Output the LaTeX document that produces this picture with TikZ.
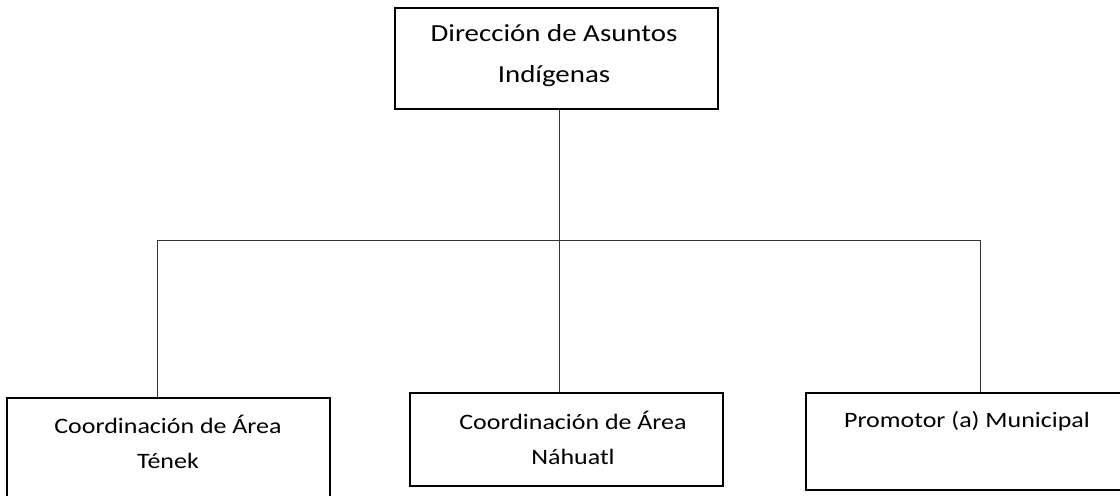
\documentclass[tikz,border=0pt]{standalone}
\usepackage{fontspec}
\setmainfont[FakeStretch=1.18]{Carlito}
\begin{document}
\begin{tikzpicture}[x=1bp,y=-1bp,
  box/.style={draw=black, line width=1.6bp, inner sep=0pt, fill=none},
  toptxt/.style={align=center, inner sep=0pt, anchor=base, font=\fontsize{24.5bp}{41bp}\selectfont},
  subtxt/.style={align=center, inner sep=0pt, anchor=base, font=\fontsize{22bp}{35bp}\selectfont},
  conn/.style={draw=black!80, line width=0.9bp}]
\useasboundingbox (0,0) rectangle (1120,496);
\clip (0,0) rectangle (1120,496);
% boxes
\node[box, minimum width=323bp, minimum height=101bp] (dir) at (556.5,58.5) {};
\node[box, minimum width=323bp, minimum height=104bp] (ten) at (168.5,450) {};
\node[box, minimum width=313bp, minimum height=93bp] (nah) at (566.5,439.5) {};
\node[box, minimum width=322bp, minimum height=97bp] (pro) at (967,441.5) {};
% texts (base anchor = baseline of last line)
\node[toptxt] (dirt) at (554,83) {Dirección de Asuntos\\Indígenas};
\node[subtxt] (tent) at (168,468) {Coordinación de Área\\Tének};
\node[subtxt] (naht) at (573,464) {Coordinación de Área\\Náhuatl};
\node[subtxt] (prot) at (967,427) {Promotor (a) Municipal};
% connectors
\coordinate (jL) at (157,240);
\coordinate (jM) at (559,240);
\coordinate (jR) at (980,240);
\draw[conn] (dir.south -| jM) -- (jM);
\draw[conn] (jL) -- (jR);
\draw[conn] (jL) -- (jL |- ten.north);
\draw[conn] (jM) -- (jM |- nah.north);
\draw[conn] (jR) -- (jR |- pro.north);
\end{tikzpicture}
\end{document}
